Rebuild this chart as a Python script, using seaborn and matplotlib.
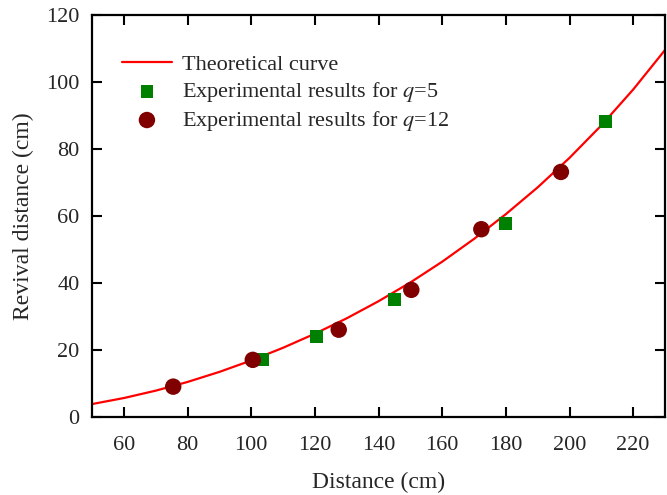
import pandas as pd
import matplotlib
matplotlib.use("Agg")
import matplotlib.pyplot as plt
import seaborn as sns

# Theoretical curve, every 10 cm
curve_x = [50, 60, 70, 80, 90, 100, 110, 120, 130, 140, 150, 160, 170, 180, 190, 200, 210, 220, 230]
curve_y = [3.8, 5.6, 7.8, 10.4, 13.4, 16.8, 20.6, 24.8, 29.4, 34.5, 40.1, 46.3, 53.1, 60.5, 68.5, 77.3, 87.0, 97.7, 109.5]

# Experimental results, q=5 (squares)
q5_x = [103.5, 120.5, 145, 179.8, 211.3]
q5_y = [17.0, 24.0, 35.0, 57.6, 88.2]

# Experimental results, q=12 (circles)
q12_x = [75.5, 100.5, 127.5, 150.3, 172.3, 197.3]
q12_y = [9.0, 17.0, 26.0, 37.9, 56.0, 73.1]

x_ticks = [60, 80, 100, 120, 140, 160, 180, 200, 220]
y_ticks = [0, 20, 40, 60, 80, 100, 120]


def main():
    sns.set_style("ticks")
    plt.rcParams['font.family'] = ['Liberation Serif', 'DejaVu Serif']
    plt.rcParams['mathtext.fontset'] = 'stix'
    plt.rcParams['font.size'] = 16

    curve = pd.DataFrame({'x': curve_x, 'y': curve_y})
    q5 = pd.DataFrame({'x': q5_x, 'y': q5_y})
    q12 = pd.DataFrame({'x': q12_x, 'y': q12_y})

    fig = plt.figure(figsize=(6.67, 4.95), dpi=100)
    ax = fig.add_axes([0.138, 0.158, 0.859, 0.812])

    sns.lineplot(x='x', y='y', data=curve, ax=ax, color='#ff0000', linewidth=1.6,
                 label='Theoretical curve', zorder=2)
    sns.scatterplot(x='x', y='y', data=q5, ax=ax, marker='s', color='#008000', s=85,
                    edgecolor='none', label='Experimental results for $q$=5', zorder=3)
    sns.scatterplot(x='x', y='y', data=q12, ax=ax, marker='o', color='#800000', s=140,
                    edgecolor='none', label='Experimental results for $q$=12', zorder=3)

    ax.set_xlim(50, 230)
    ax.set_ylim(0, 120)
    ax.set_xticks(x_ticks)
    ax.set_yticks(y_ticks)
    ax.tick_params(direction='in', length=7, width=1.5, top=True, right=True,
                   labelsize=16, color='black')
    ax.tick_params(axis='x', pad=14)
    ax.tick_params(axis='y', pad=9)
    for sp in ax.spines.values():
        sp.set_linewidth(1.6)
        sp.set_color('black')

    ax.set_xlabel('Distance (cm)', fontsize=17, labelpad=12)
    ax.set_ylabel('Revival distance (cm)', fontsize=17, labelpad=9)

    ax.legend(loc='upper left', bbox_to_anchor=(0.025, 0.94), frameon=False,
              fontsize=16, handlelength=2.25, handletextpad=0.45,
              labelspacing=0.22, borderaxespad=0.3)

    fig.savefig('out.png', dpi=100)


if __name__ == "__main__":
    main()
